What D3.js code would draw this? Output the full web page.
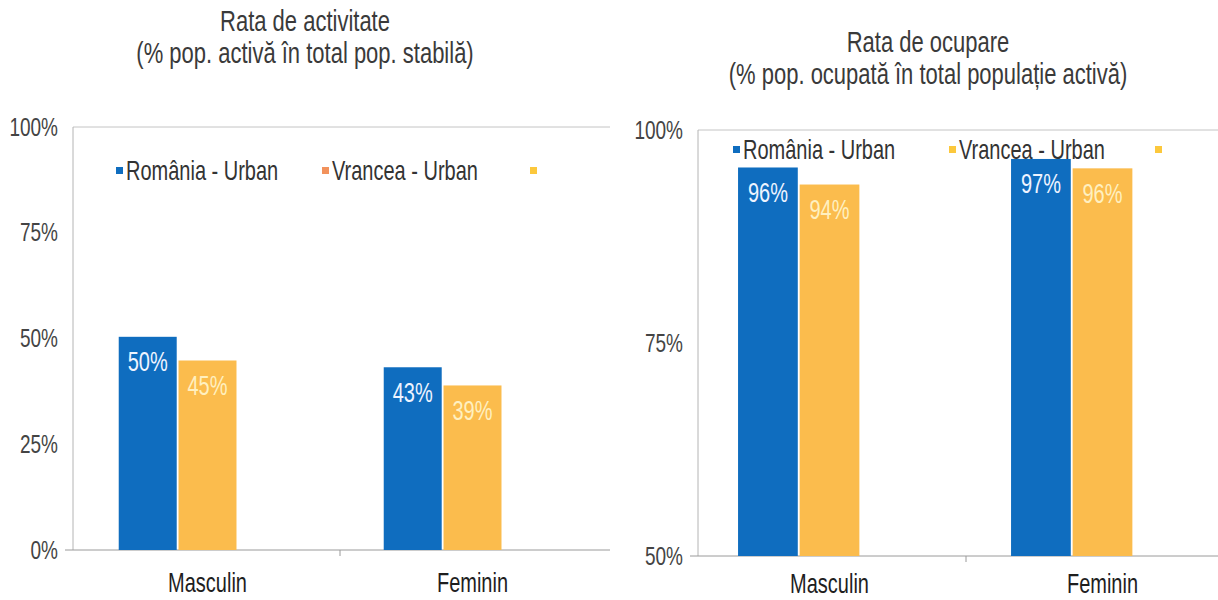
<!DOCTYPE html>
<html>
<head>
<meta charset="utf-8">
<script src="https://cdn.jsdelivr.net/npm/d3@7"></script>
<style>
  body { margin: 0; background: #fff; }
  svg { display: block; font-family: "Liberation Sans", Arial, sans-serif; }
</style>
</head>
<body>
<div id="chart"></div>
<script>
var width = 1218;
var height = 600;

// data
var categories = ["Masculin", "Feminin"];
var seriesNames = ["România - Urban", "Vrancea - Urban", ""];
var activitateRomania = [50.4, 43.2];
var activitateVrancea = [44.8, 38.9];
var ocupareRomania = [95.6, 96.6];
var ocupareVrancea = [93.6, 95.5];
var activitateTicks = [0, 25, 50, 75, 100];
var ocupareTicks = [50, 75, 100];

var blue = "#0f6dbf";
var orange = "#fbbc4d";
var stretch = 1.35; // the scan is tall, text looks squeezed

var svg = d3.select("#chart").append("svg")
  .attr("width", width)
  .attr("height", height);

function stretchedText(g, x, y, txt, size, color, anchor) {
  return g.append("text")
    .attr("transform", "translate(" + x + "," + y + ") scale(1," + stretch + ")")
    .attr("text-anchor", anchor || "middle")
    .attr("dy", "0.35em")
    .attr("font-size", size)
    .attr("fill", color)
    .text(txt);
}

function drawChart(cfg) {
  var g = svg.append("g");

  var x = d3.scaleBand()
    .domain(categories)
    .range(cfg.xRange)
    .paddingInner(0.33)
    .paddingOuter(0.165);
  var xs = d3.scaleBand()
    .domain(seriesNames)
    .range([0, x.bandwidth()])
    .paddingInner(0.03);
  var y = d3.scaleLinear()
    .domain(cfg.yDomain)
    .range([cfg.bottom, cfg.top]);

  // titles
  stretchedText(g, cfg.titleX, cfg.titleY, cfg.title1, 22, "#3a3a3a");
  stretchedText(g, cfg.titleX, cfg.titleY + 32, cfg.title2, 22, "#3a3a3a");

  // frame
  g.append("line")
    .attr("x1", cfg.left).attr("x2", cfg.right)
    .attr("y1", cfg.top).attr("y2", cfg.top)
    .attr("stroke", "#c4c4c4");
  g.append("line")
    .attr("x1", cfg.left).attr("x2", cfg.left)
    .attr("y1", cfg.top).attr("y2", cfg.bottom)
    .attr("stroke", "#b4b4b4");

  // y axis
  var yAxis = g.append("g")
    .attr("transform", "translate(" + (cfg.left - 12) + ",0)")
    .call(d3.axisLeft(y).tickValues(cfg.ticks).tickSize(0).tickFormat(function(d) { return d + "%"; }));
  yAxis.select(".domain").remove();
  yAxis.selectAll("text")
    .attr("font-family", "Liberation Sans, Arial, sans-serif")
    .attr("font-size", 19)
    .attr("fill", "#444")
    .attr("transform", "scale(1," + stretch + ")");

  // x axis
  var xAxis = g.append("g")
    .attr("transform", "translate(0," + cfg.bottom + ")")
    .call(d3.axisBottom(x).tickSize(0).tickFormat(""));
  xAxis.select(".domain")
    .attr("d", "M" + (cfg.left - 8) + ",0H" + cfg.right)
    .attr("stroke", "#9a9a9a");
  xAxis.append("line")
    .attr("x1", x("Feminin") - x.step() * x.paddingInner() / 2)
    .attr("x2", x("Feminin") - x.step() * x.paddingInner() / 2)
    .attr("y1", 0).attr("y2", 6)
    .attr("stroke", "#9a9a9a");
  categories.forEach(function(c) {
    stretchedText(g, x(c) + x.bandwidth() / 2, cfg.bottom + cfg.catOffset, c, 20, "#1e1e1e");
  });

  // bars
  var rows = [];
  categories.forEach(function(c, i) {
    rows.push({cat: c, s: seriesNames[0], v: cfg.ro[i], fill: blue, lab: "#eef4ff"});
    rows.push({cat: c, s: seriesNames[1], v: cfg.vn[i], fill: orange, lab: "#fff0c0"});
  });
  g.selectAll("rect.bar").data(rows).enter().append("rect")
    .attr("class", "bar")
    .attr("x", function(d) { return x(d.cat) + xs(d.s); })
    .attr("y", function(d) { return y(d.v); })
    .attr("width", xs.bandwidth())
    .attr("height", function(d) { return cfg.bottom - y(d.v); })
    .attr("fill", function(d) { return d.fill; });
  rows.forEach(function(d) {
    stretchedText(g, x(d.cat) + xs(d.s) + xs.bandwidth() / 2, y(d.v) + 25,
      Math.round(d.v) + "%", 20, d.lab);
  });

  // legend
  var lg = g.append("g").attr("transform", "translate(" + cfg.legendX + "," + cfg.legendY + ")");
  cfg.legendPos.forEach(function(px, i) {
    lg.append("rect")
      .attr("x", px).attr("y", -3)
      .attr("width", 7).attr("height", 7)
      .attr("fill", cfg.legendColors[i]);
    if (seriesNames[i]) {
      stretchedText(lg, px + 10, 1, seriesNames[i], 20, "#333", "start");
    }
  });
}

drawChart({
  title1: "Rata de activitate",
  title2: "(% pop. activă în total pop. stabilă)",
  titleX: 305, titleY: 21,
  left: 73, right: 610, top: 127, bottom: 550,
  xRange: [75, 605],
  yDomain: [0, 100],
  ticks: activitateTicks,
  ro: activitateRomania, vn: activitateVrancea,
  catOffset: 33,
  legendX: 116, legendY: 170,
  legendPos: [0, 206, 414],
  legendColors: [blue, "#f2925c", "#fcc83c"]
});

drawChart({
  title1: "Rata de ocupare",
  title2: "(% pop. ocupată în total populație activă)",
  titleX: 928, titleY: 42,
  left: 698, right: 1218, top: 130, bottom: 556,
  xRange: [693, 1239],
  yDomain: [50, 100],
  ticks: ocupareTicks,
  ro: ocupareRomania, vn: ocupareVrancea,
  catOffset: 28,
  legendX: 733, legendY: 149,
  legendPos: [0, 216, 422],
  legendColors: [blue, "#fcc83c", "#fcc83c"]
});
</script>
</body>
</html>
